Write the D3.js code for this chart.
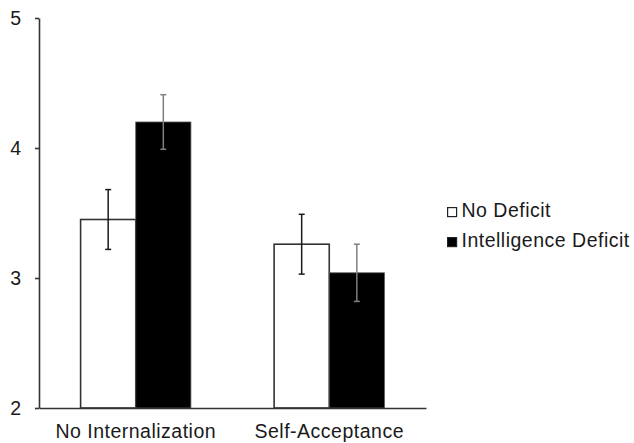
<!DOCTYPE html>
<html>
<head>
<meta charset="utf-8">
<script src="https://cdn.jsdelivr.net/npm/d3@7"></script>
<style>
  body { margin: 0; background: #fff; }
  text { font-family: "Liberation Sans", Arial, sans-serif; fill: #1a1a1a; }
</style>
</head>
<body>
<div id="chart-area"></div>
<script>
// data
var categories = ["No Internalization", "Self-Acceptance"];
var seriesNames = ["No Deficit", "Intelligence Deficit"];
var noDeficit = [3.45, 3.26];
var intelDeficit = [4.20, 3.04];
var noDeficitErr = [0.23, 0.23];
var intelDeficitErr = [0.21, 0.22];
var yTicks = [2, 3, 4, 5];

var fills = ["#ffffff", "#000000"];
var errColors = ["#1a1a1a", "#7f7f7f"];

var svg = d3.select("#chart-area").append("svg")
     .attr("width", 634)
     .attr("height", 443);

var rows = [];
categories.forEach((c, i) => {
     rows.push({ cat: c, s: 0, value: noDeficit[i], err: noDeficitErr[i] });
     rows.push({ cat: c, s: 1, value: intelDeficit[i], err: intelDeficitErr[i] });
});

var x = d3.scaleBand()
     .domain(categories)
     .range([39, 426])
     .paddingInner(0.43)
     .paddingOuter(0.215);

var xs = d3.scaleBand()
     .domain([0, 1])
     .range([0, x.bandwidth()]);

var y = d3.scaleLinear()
     .domain([2, 5])
     .range([408, 18]);

// bars
svg.selectAll("rect.bar")
     .data(rows)
     .enter()
     .append("rect")
     .attr("class", "bar")
     .attr("x", (d) => x(d.cat) + xs(d.s))
     .attr("width", xs.bandwidth())
     .attr("y", (d) => y(d.value))
     .attr("height", (d) => y(2) - y(d.value))
     .attr("fill", (d) => fills[d.s])
     .attr("stroke", (d) => d.s === 0 ? "#333" : "#555")
     .attr("stroke-width", (d) => d.s === 0 ? 1.6 : 0.8);

// error bars
var eb = svg.selectAll("g.err")
     .data(rows)
     .enter()
     .append("g")
     .attr("class", "err")
     .attr("stroke", (d) => errColors[d.s])
     .attr("stroke-width", 1.5);

eb.append("line")
     .attr("x1", (d) => x(d.cat) + xs(d.s) + xs.bandwidth() / 2)
     .attr("x2", (d) => x(d.cat) + xs(d.s) + xs.bandwidth() / 2)
     .attr("y1", (d) => y(d.value + d.err))
     .attr("y2", (d) => y(d.value - d.err));

[1, -1].forEach((sign) => {
     eb.append("line")
          .attr("x1", (d) => x(d.cat) + xs(d.s) + xs.bandwidth() / 2 - 3)
          .attr("x2", (d) => x(d.cat) + xs(d.s) + xs.bandwidth() / 2 + 3)
          .attr("y1", (d) => y(d.value + sign * d.err))
          .attr("y2", (d) => y(d.value + sign * d.err));
});

// y axis
var yAxis = svg.append("g")
     .attr("transform", "translate(39,0)")
     .call(d3.axisLeft(y).tickValues(yTicks).tickSize(4).tickSizeOuter(0).tickPadding(14).tickFormat(d3.format("d")));
yAxis.select(".domain").attr("stroke", "#333").attr("stroke-width", 1.6);
yAxis.selectAll(".tick line").attr("stroke", "#333").attr("stroke-width", 1.6);
yAxis.selectAll(".tick text")
     .style("font-size", "19.5px")
     .attr("fill", "#1a1a1a");

// x axis
var xAxis = svg.append("g")
     .attr("transform", "translate(0,408)")
     .call(d3.axisBottom(x).tickSize(0).tickPadding(16));
xAxis.select(".domain").attr("stroke", "#333").attr("stroke-width", 1.6);
xAxis.selectAll(".tick text")
     .style("font-size", "19.5px")
     .style("letter-spacing", "0.5px")
     .attr("fill", "#1a1a1a");

// legend
var legend = svg.selectAll("g.legend")
     .data(seriesNames)
     .enter()
     .append("g")
     .attr("class", "legend")
     .attr("transform", (d, i) => "translate(447," + (207 + i * 30) + ")");

legend.append("rect")
     .attr("x", 0.6)
     .attr("y", 0.6)
     .attr("width", 9)
     .attr("height", 9)
     .attr("fill", (d, i) => fills[i])
     .attr("stroke", "#222")
     .attr("stroke-width", 1.2);

legend.append("text")
     .attr("x", 14.5)
     .attr("y", 10)
     .style("font-size", "19.5px")
     .style("letter-spacing", "0.5px")
     .text((d) => d);
</script>
</body>
</html>
